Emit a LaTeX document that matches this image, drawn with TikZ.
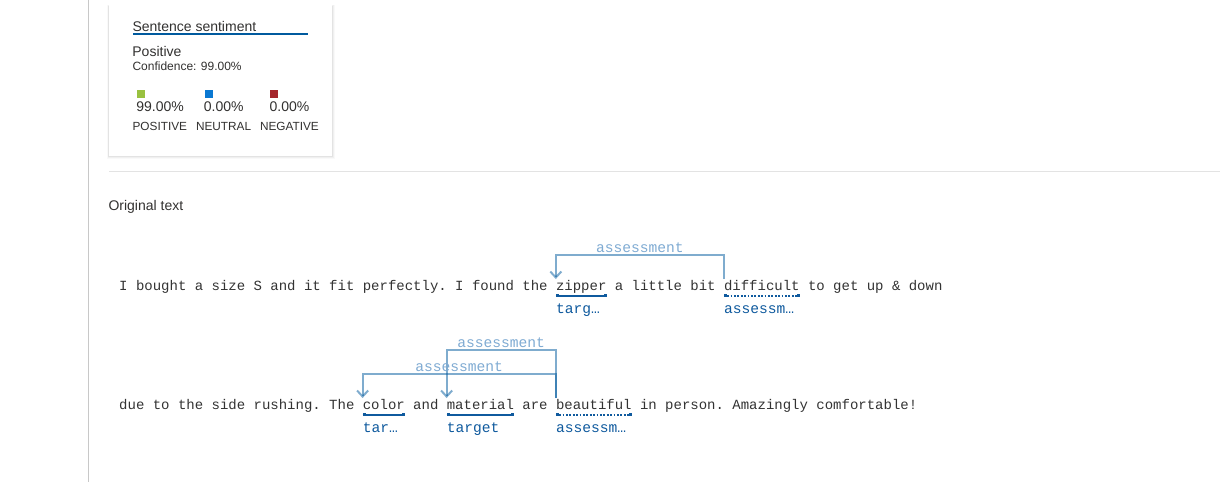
\documentclass[tikz,border=0pt]{standalone}
\usepackage{fontspec}
\setmainfont{Liberation Sans}
\newfontfamily\monof{Liberation Mono}
\usetikzlibrary{arrows.meta,calc}
\newcommand\myfs[1]{\fontsize{#1}{#1}\selectfont}
\definecolor{txt}{HTML}{333333}
\definecolor{cardtxt}{HTML}{323130}
\definecolor{ublue}{HTML}{0F5A9E}
\definecolor{arcblue}{HTML}{005A9E}
\definecolor{arclab}{HTML}{7FABD3}
\definecolor{sqgreen}{HTML}{99C140}
\definecolor{sqblue}{HTML}{0A78D2}
\definecolor{sqred}{HTML}{A4262C}
\definecolor{vline}{HTML}{C8C8C8}
\definecolor{hline}{HTML}{E3E3E3}
\newcommand\entul[2]{%
  \draw[#2] ($(#1.base west)+(0,5.8)$) -- ($(#1.base east)+(0,5.8)$);
  \fill[ublue] ($(#1.base west)+(0,4.3)$) rectangle ++(3,3);
  \fill[ublue] ($(#1.base east)+(-3,4.3)$) rectangle ++(3,3);}
\begin{document}
\begin{tikzpicture}[x=1pt,y=-1pt,
  mono/.style={inner sep=0pt,anchor=base west,font=\monof\myfs{14pt}\frenchspacing,text=txt},
  sans/.style={inner sep=0pt,anchor=base west,text=cardtxt},
  ent/.style={inner sep=0pt,anchor=base west,font=\monof\myfs{14.6pt},text=ublue},
  arcline/.style={draw=arcblue,draw opacity=0.5,line width=2pt,-{Straight Barb[length=6pt,width=11pt]}},
  arclabel/.style={inner sep=0pt,anchor=base,font=\monof\myfs{14.6pt},text=arclab},
  tgtline/.style={ublue,line width=1.7pt},
  asmline/.style={ublue,line width=1.7pt,dash pattern=on 1.8pt off 1.6pt},
  sq/.style={inner sep=0pt,minimum size=8pt,draw=none},
]
\useasboundingbox (0,0) rectangle (1220,482);
\fill[white] (0,0) rectangle (1220,482);

% frame lines
\draw[vline,line width=1pt] (88.3,0) -- (88.3,482);
\draw[hline,line width=1pt] (109,171.7) -- (1220,171.7);

% card with soft shadow
\fill[black,opacity=0.025] (106.5,4.5) rectangle (334.5,159);
\fill[black,opacity=0.035] (107.5,5) rectangle (333.5,158);
\fill[black,opacity=0.05] (108,5.5) rectangle (332.8,157);
\fill[white] (108.5,5) rectangle (332,156);

\node[sans,font=\myfs{14pt}] (title) at (132.3,31.5) {Sentence sentiment};
\draw[arcblue,line width=2pt] ($(title.base west)+(0.7,2.8)$) -- ++(175,0);
\node[sans,font=\myfs{14pt}] (posi) at (132.2,56) {Positive};
\node[sans,font=\myfs{12pt}] (conf) at (132.3,70) {Confidence: 99.00\%};

\node[sq,fill=sqgreen] (sqp) at (140.7,94) {};
\node[sq,fill=sqblue] (squ) at (209,94) {};
\node[sq,fill=sqred] (sqn) at (274,94) {};

\node[sans,font=\myfs{14pt}] (pp) at (136.1,111) {99.00\%};
\node[sans,font=\myfs{14pt}] (pu) at (203.7,111) {0.00\%};
\node[sans,font=\myfs{14pt}] (pn) at (269.4,111) {0.00\%};

\node[sans,font=\myfs{11.8pt}] (lp) at (132.4,130.7) {POSITIVE};
\node[sans,font=\myfs{11.8pt}] (lu) at (195.8,130.7) {NEUTRAL};
\node[sans,font=\myfs{11.8pt}] (ln) at (259.8,130.7) {NEGATIVE};

\node[sans,font=\myfs{14pt}] (orig) at (108.3,210) {Original text};

% line 1
\node[mono] (l1a) at (119,290) {I bought a size S and it fit perfectly. I found the};
\node[mono] (zipper) at (555.8,290) {zipper};
\node[mono] (l1b) at (614.6,290) {a little bit};
\node[mono] (difficult) at (723.8,290) {difficult};
\node[mono] (l1c) at (807.8,290) {to get up \& down};

\entul{zipper}{tgtline}
\entul{difficult}{asmline}
\node[ent] (zipperlab) at ($(zipper.base west)+(0,23)$) {targ…};
\node[ent] (difficultlab) at ($(difficult.base west)+(0,23)$) {assessm…};

\draw[arcline] ($(difficult.base west)+(0,-11)$) -- ++(0,-24)
  -| node[arclabel,pos=0.25,yshift=3pt] (a1) {assessment} ($(zipper.base west)+(0,-11)$);

% line 2
\node[mono] (l2a) at (119,409) {due to the side rushing. The};
\node[mono] (color) at (362.6,409) {color};
\node[mono] (l2b) at (413,409) {and};
\node[mono] (material) at (446.6,409) {material};
\node[mono] (l2c) at (522.2,409) {are};
\node[mono] (beautiful) at (555.8,409) {beautiful};
\node[mono] (l2d) at (639.8,409) {in person. Amazingly comfortable!};

\entul{color}{tgtline}
\entul{material}{tgtline}
\entul{beautiful}{asmline}
\node[ent] (colorlab) at ($(color.base west)+(0,23)$) {tar…};
\node[ent] (materiallab) at ($(material.base west)+(0,23)$) {target};
\node[ent] (beautifullab) at ($(beautiful.base west)+(0,23)$) {assessm…};

\draw[arcline] ($(beautiful.base west)+(0,-11)$) -- ++(0,-48)
  -| node[arclabel,pos=0.25,yshift=3pt] (a2) {assessment} ($(material.base west)+(0,-11)$);
\draw[arcline] ($(beautiful.base west)+(0,-11)$) -- ++(0,-24)
  -| node[arclabel,pos=0.25,yshift=3pt] (a3) {assessment} ($(color.base west)+(0,-11)$);
\end{tikzpicture}
\end{document}
